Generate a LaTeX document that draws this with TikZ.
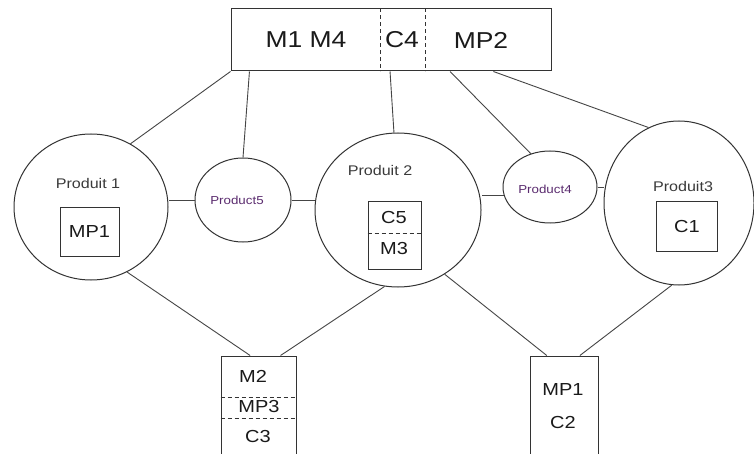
\documentclass[tikz,border=0pt]{standalone}
\usepackage{fontspec}
\setmainfont{Liberation Sans}[FakeStretch=1.15]
\usetikzlibrary{shapes.geometric,calc}
\definecolor{edge}{HTML}{454545}
\definecolor{rim}{HTML}{333333}
\definecolor{prodgray}{HTML}{3A3A3A}
\definecolor{prodpurple}{HTML}{5B2C6F}
\definecolor{ink}{HTML}{1A1A1A}
\tikzset{
  link/.style={draw=edge, line width=0.9pt},
  oval/.style={ellipse, draw=rim, line width=1pt, inner sep=0pt},
  boxn/.style={rectangle, draw=rim, line width=1pt, inner sep=0pt},
  sep/.style={draw=rim, line width=0.9pt, dash pattern=on 4pt off 3pt},
  bigtxt/.style={text=ink, font=\fontsize{23}{27}\selectfont},
  midtxt/.style={text=ink, font=\fontsize{17.4}{20}\selectfont},
  prodlab/.style={text=prodgray, font=\fontsize{14}{16}\selectfont},
  prodsmall/.style={text=prodpurple, font=\fontsize{11.6}{14}\selectfont},
}
\begin{document}
\begin{tikzpicture}[x=1pt, y=-1pt]
  \clip (0,0) rectangle (754,454);
  \fill[white] (0,0) rectangle (754,454);

  % top bar
  \node[boxn, minimum width=320pt, minimum height=62pt] (top) at (391,40) {};
  \draw[sep] (top.north west -| 380,0) -- (top.south west -| 380,0);
  \draw[sep] (top.north west -| 425,0) -- (top.south west -| 425,0);
  \node[bigtxt] (tm) at (306,40) {M1 M4};
  \node[bigtxt] (tc) at (402,40) {C4};
  \node[bigtxt] (tp) at (481,40) {MP2};

  % product ellipses
  \node[oval, minimum width=154pt, minimum height=146pt] (p1) at (91,207) {};
  \node[oval, minimum width=96pt, minimum height=84pt] (p5) at (243,200) {};
  \node[oval, minimum width=166pt, minimum height=154pt] (p2) at (398,210) {};
  \node[oval, minimum width=94pt, minimum height=72pt] (p4) at (550,187) {};
  \node[oval, minimum width=150pt, minimum height=164pt] (p3) at (679,203) {};

  \node[prodlab] (l1) at (88,183) {Produit 1};
  \node[prodsmall] (l5) at (237,200) {Product5};
  \node[prodlab] (l2) at (380,170) {Produit 2};
  \node[prodsmall] (l4) at (545,189) {Product4};
  \node[prodlab] (l3) at (683,186) {Produit3};

  % boxes inside the ellipses
  \node[boxn, minimum width=59pt, minimum height=48pt] (b1) at (89.5,232) {};
  \node[midtxt] at (b1) {MP1};
  \node[boxn, minimum width=53pt, minimum height=67pt] (b2) at (394.5,235.5) {};
  \draw[sep] (b2.west |- 0,233) -- (b2.east |- 0,233);
  \node[midtxt] (c5) at (394,218) {C5};
  \node[midtxt] (m3) at (394,249) {M3};
  \node[boxn, minimum width=61pt, minimum height=49pt] (b3) at (686.5,226.5) {};
  \node[midtxt] at (687,227) {C1};

  % bottom boxes
  \node[boxn, minimum width=75pt, minimum height=110pt] (bl) at (258.5,411) {};
  \draw[sep] (bl.west |- 0,397) -- (bl.east |- 0,397);
  \draw[sep] (bl.west |- 0,418) -- (bl.east |- 0,418);
  \node[midtxt] at (253,376) {M2};
  \node[midtxt] at (259,407) {MP3};
  \node[midtxt] at (258,437) {C3};
  \node[boxn, minimum width=68pt, minimum height=110pt] (br) at (564,411) {};
  \node[midtxt] at (563,390) {MP1};
  \node[midtxt] at (563,423) {C2};

  % links from the top bar
  \draw[link] ($(top.south west)!0.0!(top.south east)$) -- (p1.58);
  \draw[link] ($(top.south west)!0.059!(top.south east)$) -- (p5.north);
  \draw[link] ($(top.south west)!0.497!(top.south east)$) -- (p2.93);
  \draw[link] ($(top.south west)!0.684!(top.south east)$) -- (p4.120);
  \draw[link] ($(top.south west)!0.819!(top.south east)$) -- (p3.112);

  % links along the middle row
  \draw[link] (p5.west) -- (p1.east |- p5.west);
  \draw[link] (p5.east) -- (p2.west |- p5.east);
  \draw[link] (p4.190) -- (p4.190 -| p2.east);
  \draw[link] (p4.east) -- (p4.east -| p3.west);

  % links to the bottom boxes
  \draw[link] (p1.299) -- ($(bl.north west)!0.39!(bl.north east)$);
  \draw[link] (p2.260) -- ($(bl.north west)!0.79!(bl.north east)$);
  \draw[link] (p2.306) -- ($(br.north west)!0.25!(br.north east)$);
  \draw[link] (p3.265) -- ($(br.north west)!0.73!(br.north east)$);
\end{tikzpicture}
\end{document}
